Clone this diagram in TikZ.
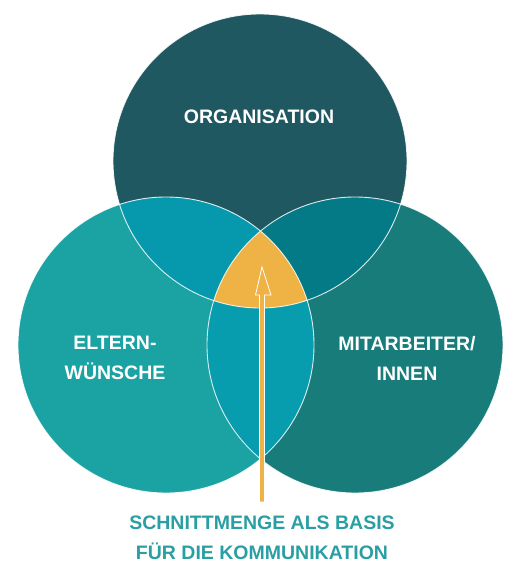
\documentclass[tikz,border=0pt]{standalone}
\usepackage{fontspec}
\setmainfont{Liberation Sans}
\definecolor{ctop}{HTML}{1F5860}
\definecolor{cleft}{HTML}{1BA2A3}
\definecolor{cright}{HTML}{177C7A}
\definecolor{ctl}{HTML}{0698AD}
\definecolor{ctr}{HTML}{047A87}
\definecolor{clr}{HTML}{089CAF}
\definecolor{cyel}{HTML}{EFB244}
\definecolor{ctext}{HTML}{2A9FA3}
\tikzset{
  lbl/.style={text=white, font=\bfseries\fontsize{19.5}{30}\selectfont, align=center, inner sep=0pt},
  caption/.style={text=ctext, font=\bfseries\fontsize{19.5}{30}\selectfont, align=center, inner sep=0pt},
  rim/.style={draw=white, draw opacity=0.85, line width=0.9pt}
}
\begin{document}
\begin{tikzpicture}[x=1pt,y=1pt]
\useasboundingbox (0,0) rectangle (526,571);
\coordinate (T) at (260,410);
\coordinate (L) at (166,226);
\coordinate (R) at (355,226);
\def\rT{147}
\def\rL{148}
% base circles
\fill[ctop] (T) circle (\rT);
\fill[cleft] (L) circle (\rL);
\fill[cright] (R) circle (\rL);
% pairwise overlaps
\begin{scope}
  \clip (T) circle (\rT);
  \fill[ctl] (L) circle (\rL);
  \fill[ctr] (R) circle (\rL);
\end{scope}
\begin{scope}
  \clip (L) circle (\rL);
  \fill[clr] (R) circle (\rL);
\end{scope}
% triple overlap
\begin{scope}
  \clip (T) circle (\rT);
  \clip (L) circle (\rL);
  \fill[cyel] (R) circle (\rL);
\end{scope}
% rims
\draw[rim] (T) circle (\rT);
\draw[rim] (L) circle (\rL);
\draw[rim] (R) circle (\rL);
% arrow
\coordinate (tip) at (262,304);
\coordinate (foot) at (262,69);
\draw[fill=cyel, draw=white, line width=0.8pt, line join=miter]
  (tip) -- ++(9,-28) -- ++(-6.5,0) |- (foot) -- ++(-2.5,0) |- (255.5,276) -- cycle;
% labels
\node[lbl] (org) at (259,454) {ORGANISATION};
\node[lbl] (elt) at (115,213) {ELTERN-\\WÜNSCHE};
\node[lbl] (mit) at (407,213) {MITARBEITER/\\INNEN};
\node[caption] (cap) at (262,33) {SCHNITTMENGE ALS BASIS\\FÜR DIE KOMMUNIKATION};
\end{tikzpicture}
\end{document}
